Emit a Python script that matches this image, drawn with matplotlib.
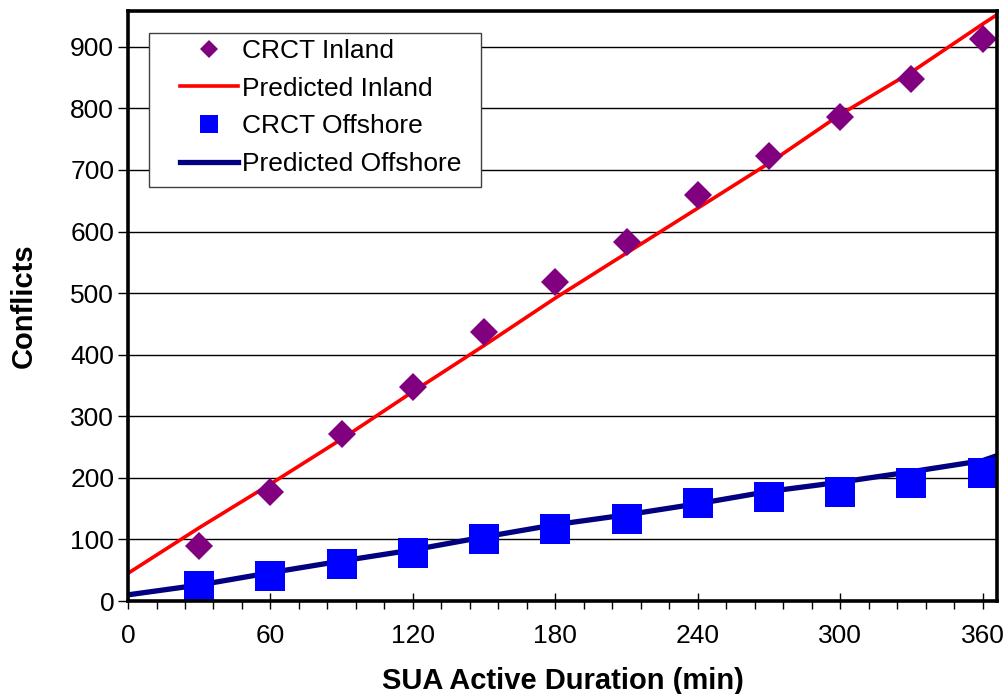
import matplotlib

matplotlib.use("Agg")
import matplotlib.pyplot as plt
from matplotlib.lines import Line2D
from matplotlib.patches import Rectangle
from matplotlib.ticker import MultipleLocator

# observed CRCT conflicts, every 30 min
duration = [30, 60, 90, 120, 150, 180, 210, 240, 270, 300, 330, 360]
crct_inland = [89, 177, 272, 348, 437, 518, 583, 660, 723, 786, 848, 913]
crct_offshore = [24, 41, 60, 78, 101, 117, 133, 159, 169, 177, 191, 208]

# predicted curves
pred_duration = [0, 30, 60, 90, 120, 150, 180, 210, 240, 270, 300, 330, 360, 366]
pred_inland = [45, 119, 190, 263, 340, 415, 492, 565, 638, 711, 790, 859, 937, 952]
pred_offshore = [10, 26, 46, 65, 83, 104, 124, 140, 158, 178, 193, 210, 228, 236]

X_TICKS = [0, 60, 120, 180, 240, 300, 360]
Y_TICKS = [0, 100, 200, 300, 400, 500, 600, 700, 800, 900]

plt.rcParams.update(
    {
        "font.family": ["Liberation Sans", "DejaVu Sans"],
        "font.size": 19,
    }
)

fig = plt.figure(figsize=(10.08, 6.94), dpi=100)
ax = fig.add_axes([0.127, 0.134, 0.862, 0.850])

ax.plot(pred_duration, pred_inland, color="#FF0000", linewidth=2.6, zorder=3)
ax.plot(pred_duration, pred_offshore, color="#000080", linewidth=3.8, zorder=3)
ax.plot(duration, crct_inland, linestyle="none", marker="D", markersize=14,
        color="#800080", markeredgewidth=0, zorder=4)
ax.plot(duration, crct_offshore, linestyle="none", marker="s", markersize=21,
        color="#0000FF", markeredgewidth=0, zorder=4)

ax.set_xlim(0, 366)
ax.set_ylim(0, 958)
ax.set_xticks(X_TICKS)
ax.set_yticks(Y_TICKS)
ax.xaxis.set_minor_locator(MultipleLocator(12))
ax.grid(True, axis="y", color="black", linewidth=1.0)
ax.set_axisbelow(True)

for side in ("top", "right", "left", "bottom"):
    ax.spines[side].set_linewidth(2.6)
    ax.spines[side].set_zorder(5)

ax.tick_params(axis="x", which="major", direction="inout", length=11, width=1.0, pad=11,
               labelsize=19)
ax.tick_params(axis="x", which="minor", direction="out", length=6, width=1.0)
ax.tick_params(axis="y", which="major", direction="out", length=7, width=1.0, pad=3,
               labelsize=19)

ax.set_xlabel("SUA Active Duration (min)", fontsize=21, fontweight="bold")
ax.set_ylabel("Conflicts", fontsize=21, fontweight="bold")
ax.xaxis.set_label_coords(0.5, -0.112)
ax.yaxis.set_label_coords(-0.104, 0.5)

# legend frame drawn separately so the padding can differ from Excel's layout
frame = Rectangle((0.0242, 0.702), 0.382, 0.261, transform=ax.transAxes,
                  facecolor="white", edgecolor="#404040", linewidth=1.0, zorder=5.5)
ax.add_patch(frame)

handles = [
    Line2D([], [], linestyle="none", marker="D", markersize=9, color="#800080",
           markeredgewidth=0),
    Line2D([], [], color="#FF0000", linewidth=2.6),
    Line2D([], [], linestyle="none", marker="s", markersize=13, color="#0000FF",
           markeredgewidth=0),
    Line2D([], [], color="#000080", linewidth=3.8),
]
labels = ["CRCT Inland", "Predicted Inland", "CRCT Offshore", "Predicted Offshore"]
leg = ax.legend(
    handles,
    labels,
    loc="upper left",
    bbox_to_anchor=(0.0598, 0.953),
    fontsize=19,
    frameon=False,
    handlelength=2.2,
    handletextpad=0.15,
    labelspacing=0.52,
    borderpad=0.0,
    borderaxespad=0.0,
)
leg.set_zorder(6)

fig.savefig("out.png", dpi=100)
